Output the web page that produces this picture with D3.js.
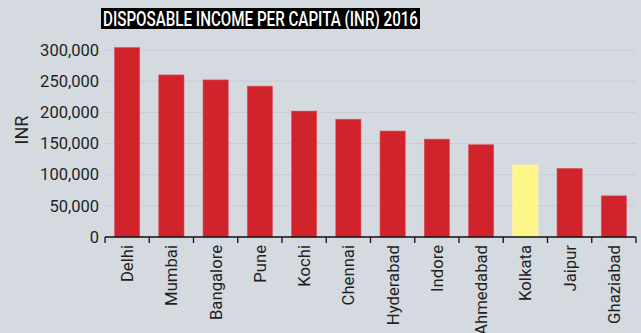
<!DOCTYPE html>
<html>
<head>
<meta charset="utf-8">
<script src="https://cdn.jsdelivr.net/npm/d3@7"></script>
<style>
  body { margin: 0; background: #d5dae1; }
  text { font-family: "Roboto", "Liberation Sans", sans-serif; fill: #1f1f1f; }
</style>
</head>
<body>
<div id="chart"></div>
<script>
// svg container
var width = 641
var height = 333

var margin = { top: 50, right: 5, bottom: 96, left: 105 };

var chartWidth = width - margin.left - margin.right;
var chartHeight = height - margin.top - margin.bottom;

// data
var cities = ['Delhi', 'Mumbai', 'Bangalore', 'Pune', 'Kochi', 'Chennai', 'Hyderabad',
    'Indore', 'Ahmedabad', 'Kolkata', 'Jaipur', 'Ghaziabad'];
var income = [304000, 260000, 252000, 242000, 202000, 189000, 170000,
    157000, 148000, 115500, 110000, 66000];
var highlight = 'Kolkata';
var yTicks = [0, 50000, 100000, 150000, 200000, 250000, 300000];

var data = cities.map((c, i) => ({ city: c, value: income[i] }));

var svg = d3.select('#chart').append('svg')
    .attr('width', width)
    .attr('height', height);

var chartGroup = svg.append('g')
    .attr('transform', `translate(${margin.left}, ${margin.top})`);

var x = d3.scaleBand()
    .domain(cities)
    .range([0, chartWidth])
    .paddingInner(0.43)
    .paddingOuter(0.215);

var y = d3.scaleLinear()
    .domain([0, 300000])
    .range([chartHeight, 0]);

// gridlines
chartGroup.selectAll('.grid')
    .data(yTicks.slice(1))
    .enter()
    .append('line')
    .attr('x1', 0)
    .attr('x2', chartWidth)
    .attr('y1', d => y(d))
    .attr('y2', d => y(d))
    .attr('stroke', '#c6cbd2')
    .attr('stroke-width', 1);

// y axis labels
var leftAxis = d3.axisLeft(y).tickValues(yTicks).tickFormat(d3.format(',')).tickSize(0).tickPadding(6);
var yAxis = chartGroup.append('g').call(leftAxis);
yAxis.select('.domain').remove();
yAxis.selectAll('text').style('font-size', '16.5px').attr('fill', '#1f1f1f');

// bars
chartGroup.selectAll('rect')
    .data(data)
    .enter()
    .append('rect')
    .attr('x', d => x(d.city))
    .attr('y', d => y(d.value))
    .attr('width', x.bandwidth())
    .attr('height', d => chartHeight - y(d.value))
    .attr('fill', d => d.city === highlight ? '#fff68a' : '#d0232c')
    .attr('stroke', d => d.city === highlight ? '#fff8a8' : '#d9575d')
    .attr('stroke-width', 0.6);

// x axis: ticks at band boundaries
var step = x.step();
var xAxis = chartGroup.append('g')
    .attr('transform', `translate(0, ${chartHeight})`);
xAxis.append('line')
    .attr('x1', 0).attr('x2', chartWidth)
    .attr('y1', 0).attr('y2', 0)
    .attr('stroke', '#111').attr('stroke-width', 1.3);
xAxis.selectAll('.tick')
    .data(d3.range(cities.length + 1))
    .enter()
    .append('line')
    .attr('x1', i => i * step).attr('x2', i => i * step)
    .attr('y1', 0).attr('y2', 6)
    .attr('stroke', '#111').attr('stroke-width', 1.3);

xAxis.selectAll('.label')
    .data(cities)
    .enter()
    .append('text')
    .attr('transform', d => `translate(${x(d) + x.bandwidth() / 2 + 6}, 8) rotate(-90)`)
    .style('text-anchor', 'end')
    .style('font-size', '16.7px')
    .text(d => d);

// y axis title
chartGroup.append('text')
    .attr('transform', 'rotate(-90)')
    .attr('x', -(130 - margin.top))
    .attr('y', 28 - margin.left)
    .style('text-anchor', 'middle')
    .style('font-size', '18px')
    .text('INR');

// title with black box
var titleBox = svg.append('rect')
    .attr('x', 101)
    .attr('y', 8)
    .attr('width', 319)
    .attr('height', 21)
    .attr('fill', '#000');
svg.append('text')
    .attr('x', 103)
    .attr('y', 26)
    .attr('textLength', 315)
    .attr('lengthAdjust', 'spacingAndGlyphs')
    .style('font-size', '20px')
    .style('font-weight', 500)
    .style('fill', '#fff')
    .text('DISPOSABLE INCOME PER CAPITA (INR) 2016');
</script>
</body>
</html>
